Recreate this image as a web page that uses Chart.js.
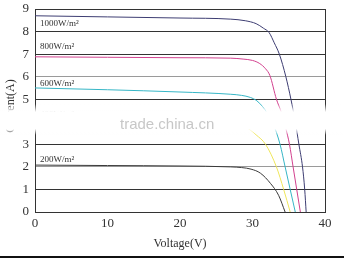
<!DOCTYPE html>
<html>
<head>
<meta charset="utf-8">
<script src="https://cdn.jsdelivr.net/npm/chart.js@4/dist/chart.umd.min.js"></script>
<style>
  html, body { margin: 0; padding: 0; background: #fff; }
  canvas { display: block; }
</style>
</head>
<body>
<canvas id="iv-chart" width="344" height="259"></canvas>
<script>
// ค่าที่อ่านจากกราฟ (แรงดัน V, กระแส A)
const seriesNames = ['1000W/m²', '800W/m²', '600W/m²', '400W/m²', '200W/m²'];

const volt1000 = [0, 10, 20, 27, 29, 30.5, 31.5, 32.3, 33.0, 33.7, 34.6, 35.3, 35.9, 36.4, 36.9, 37.2, 37.4];
const amp1000  = [8.7, 8.65, 8.6, 8.55, 8.48, 8.35, 8.15, 7.95, 7.5, 7.0, 6.0, 5.0, 4.0, 3.0, 2.0, 1.0, 0];

const volt800 = [0, 10, 20, 27, 28.7, 30, 31, 31.8, 32.4, 33.3, 34.0, 34.6, 35.1, 35.6, 36.1, 36.6];
const amp800  = [6.88, 6.86, 6.84, 6.82, 6.78, 6.72, 6.58, 6.35, 6.05, 5.0, 4.4, 3.7, 3.0, 2.0, 1.0, 0];

const volt600 = [0, 10, 20, 27, 28.5, 29.7, 30.6, 31.4, 32.0, 32.8, 33.8, 34.5, 35.2, 35.9];
const amp600  = [5.5, 5.42, 5.32, 5.22, 5.17, 5.08, 4.93, 4.67, 4.4, 3.95, 3.0, 2.0, 1.0, 0];

const volt400 = [0, 10, 20, 27, 28.3, 29.4, 30.5, 31.8, 33.3, 34.3, 35.2];
const amp400  = [4.05, 4.02, 3.98, 3.92, 3.85, 3.7, 3.42, 3.0, 2.0, 1.0, 0];

const volt200 = [0, 10, 20, 27, 28.5, 29.8, 31.1, 32.5, 33.6, 34.5];
const amp200  = [2.08, 2.06, 2.04, 2.0, 1.97, 1.9, 1.72, 1.26, 0.74, 0];

const xTicks = [0, 10, 20, 30, 40];
const yTicks = [0, 1, 2, 3, 4, 5, 6, 7, 8, 9];

const serif = "'Liberation Serif', 'Times New Roman', serif";

function toPoints(vs, is) {
  return vs.map((v, i) => ({ x: v, y: is[i] }));
}

function makeSet(name, vs, is, color) {
  return {
    label: name,
    data: toPoints(vs, is),
    showLine: true,
    borderColor: color,
    borderWidth: 1,
    pointRadius: 0,
    cubicInterpolationMode: 'monotone',
    fill: false
  };
}

// ป้ายชื่อเส้น ระยะเลื่อนจากจุดเริ่มเส้น (พิกเซล)
const labelOffsets = [8, -10, -4, -6, -5];

const overlayPlugin = {
  id: 'overlay',
  afterDatasetsDraw(chart) {
    const ctx = chart.ctx;
    const xs = chart.scales.x, ys = chart.scales.y;
    ctx.save();
    ctx.font = '9px ' + serif;
    ctx.fillStyle = '#333';
    ctx.textBaseline = 'middle';
    chart.data.datasets.forEach((ds, i) => {
      const y = ys.getPixelForValue(ds.data[0].y) + labelOffsets[i];
      ctx.fillText(ds.label, xs.getPixelForValue(0) + 5, y);
    });
    ctx.restore();
  },
  afterDraw(chart) {
    const ctx = chart.ctx;
    const w = chart.width;
    ctx.save();
    // ชื่อแกน
    ctx.fillStyle = '#333';
    ctx.font = '12px ' + serif;
    ctx.textAlign = 'center';
    ctx.textBaseline = 'middle';
    ctx.fillText('Voltage(V)', 180, 244);
    ctx.translate(11, 106);
    ctx.rotate(-Math.PI / 2);
    ctx.fillText('Current(A)', 0, 0);
    ctx.setTransform(1, 0, 0, 1, 0, 0);

    // แถบลายน้ำ
    const g = ctx.createLinearGradient(0, 104, 0, 135);
    g.addColorStop(0, 'rgba(255,255,255,0)');
    g.addColorStop(0.26, 'rgba(255,255,255,1)');
    g.addColorStop(0.8, 'rgba(255,255,255,1)');
    g.addColorStop(1, 'rgba(255,255,255,0)');
    ctx.fillStyle = g;
    ctx.fillRect(0, 104, w, 31);

    ctx.fillStyle = 'rgba(175,175,175,0.7)';
    ctx.font = '15px "Liberation Sans", Arial, sans-serif';
    ctx.textAlign = 'left';
    ctx.textBaseline = 'alphabetic';
    ctx.fillText('trade.china.cn', 120, 129);

    // เส้นขอบล่าง
    ctx.fillStyle = '#111';
    ctx.fillRect(0, 256, w, 2);
    ctx.restore();
  }
};

new Chart(document.getElementById('iv-chart'), {
  type: 'scatter',
  data: {
    datasets: [
      makeSet(seriesNames[0], volt1000, amp1000, '#3d3d72'),
      makeSet(seriesNames[1], volt800, amp800, '#d2408e'),
      makeSet(seriesNames[2], volt600, amp600, '#36b6c6'),
      makeSet(seriesNames[3], volt400, amp400, '#efe65a'),
      makeSet(seriesNames[4], volt200, amp200, '#3a3a3a')
    ]
  },
  options: {
    responsive: false,
    animation: false,
    devicePixelRatio: 1,
    layout: { padding: { top: 9, right: 19, left: 0, bottom: 0 } },
    plugins: {
      legend: { display: false },
      tooltip: { enabled: false }
    },
    scales: {
      x: {
        type: 'linear',
        min: xTicks[0],
        max: xTicks[xTicks.length - 1],
        afterFit: (s) => { s.height = 47; },
        ticks: { stepSize: 10, autoSkip: false, callback: (v) => String(v), color: '#333', font: { family: serif, size: 13 }, padding: 4 },
        grid: {
          drawTicks: false,
          color: (c) => (c.tick && c.tick.value === 40 ? '#333' : 'rgba(0,0,0,0)')
        },
        border: { color: '#333', width: 1 }
      },
      y: {
        type: 'linear',
        min: yTicks[0],
        max: yTicks[yTicks.length - 1],
        afterFit: (s) => { s.width = 35; s.paddingTop = 0; s.paddingBottom = 0; },
        ticks: { stepSize: 1, autoSkip: false, callback: (v) => String(v), color: '#333', font: { family: serif, size: 13 }, padding: 6 },
        grid: {
          drawTicks: false,
          color: (c) => (c.tick && (c.tick.value === 6 || c.tick.value === 2) ? '#9a9a9a' : '#333')
        },
        border: { color: '#333', width: 1 }
      }
    }
  },
  plugins: [overlayPlugin]
});
</script>
</body>
</html>
